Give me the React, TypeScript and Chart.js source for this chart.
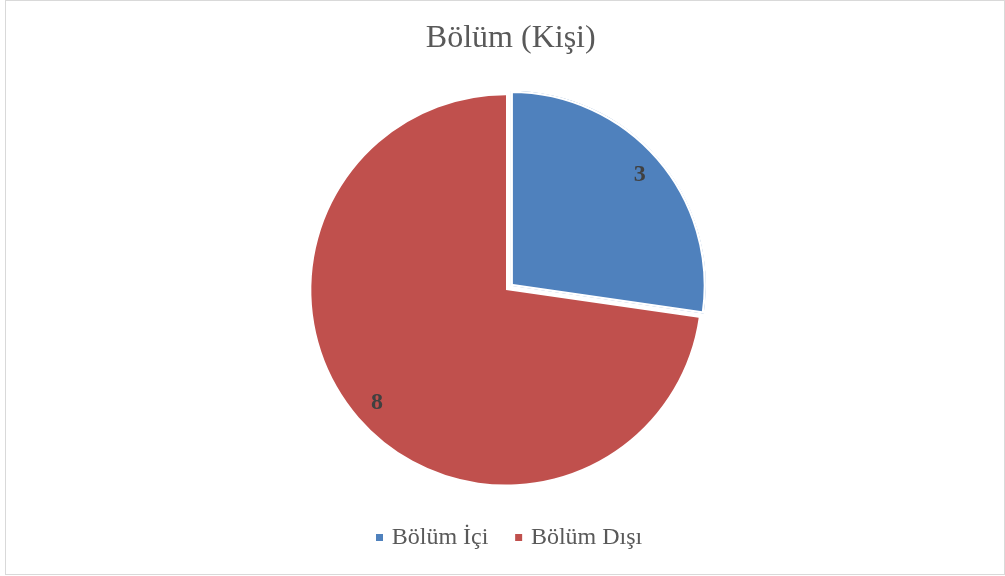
import React, { useEffect, useRef } from "react";
import { Chart, registerables, layouts } from "chart.js";

Chart.register(...registerables);

const categories: string[] = ["Bölüm İçi", "Bölüm Dışı"];
const values: number[] = [3, 8];
const sliceColors: string[] = ["#4F81BD", "#C0504D"];
const sliceOffsets: number[] = [26, 0];
const sliceBorders: number[] = [2, 0];
const titleText = "Bölüm (Kişi)";

const SERIF = "'Liberation Serif', 'Times New Roman', serif";

const sliceLabelPlugin = {
  id: "sliceLabels",
  afterDatasetsDraw(chart: any) {
    const ctx = chart.ctx as CanvasRenderingContext2D;
    const meta = chart.getDatasetMeta(0);
    ctx.save();
    ctx.font = `bold 24px ${SERIF}`;
    ctx.fillStyle = "#404040";
    ctx.textAlign = "center";
    ctx.textBaseline = "middle";
    meta.data.forEach((arc: any, i: number) => {
      const { x, y, startAngle, endAngle, outerRadius } = arc.getProps(
        ["x", "y", "startAngle", "endAngle", "outerRadius"],
        true
      );
      const mid = (startAngle + endAngle) / 2;
      const off = (arc.options.offset || 0) / 4;
      const d = outerRadius * 0.875 + off;
      ctx.fillText(String(values[i]), x + Math.cos(mid) * d, y + Math.sin(mid) * d + 1);
    });
    ctx.restore();
  },
};

// empty right-hand layout box: nudges the plot area without moving title/legend
const SPACER_WIDTH = 9.5;
const spacerPlugin = {
  id: "rightSpacer",
  beforeInit(chart: any) {
    const box: any = {
      position: "right",
      weight: 0,
      fullSize: false,
      options: {},
      width: 0,
      height: 0,
      left: 0,
      top: 0,
      right: 0,
      bottom: 0,
      isHorizontal() {
        return false;
      },
      update(_maxWidth: number, maxHeight: number) {
        this.width = SPACER_WIDTH;
        this.height = maxHeight;
        return { width: SPACER_WIDTH, height: maxHeight };
      },
      draw() {},
    };
    layouts.addBox(chart, box);
  },
};

export default function App() {
  const canvasRef = useRef<HTMLCanvasElement | null>(null);

  useEffect(() => {
    if (!canvasRef.current) return;
    const baseGen = (Chart as any).overrides.pie.plugins.legend.labels.generateLabels;
    const chart = new Chart(canvasRef.current, {
      type: "pie",
      data: {
        labels: categories,
        datasets: [
          {
            data: values,
            backgroundColor: sliceColors,
            borderColor: "#FFFFFF",
            borderWidth: sliceBorders,
            borderAlign: "inner",
            offset: sliceOffsets,
            radius: 195,
          } as any,
        ],
      },
      options: {
        responsive: false,
        animation: false,
        layout: { padding: { left: 16.5, right: 0, top: 0, bottom: 16.5 } },
        plugins: {
          title: {
            display: true,
            text: titleText,
            color: "#595959",
            font: { family: SERIF, size: 32, weight: "normal" as any, lineHeight: 1.2 },
            padding: { top: 19, bottom: 27 },
          },
          legend: {
            display: true,
            position: "bottom",
            labels: {
              color: "#595959",
              font: { family: SERIF, size: 24 },
              usePointStyle: true,
              pointStyle: "rect",
              boxWidth: 0.5,
              boxHeight: 7,
              padding: 30,
              generateLabels: (c: any) =>
                baseGen(c).map((l: any) => ({ ...l, lineWidth: 0, pointStyle: "rect" })),
            },
          },
          tooltip: { enabled: false },
        },
      },
      plugins: [sliceLabelPlugin, spacerPlugin],
    });
    return () => chart.destroy();
  }, []);

  return (
    <div style={{ position: "fixed", left: 0, top: 0, width: 1005, height: 576, background: "#fff" }}>
      <div
        style={{
          position: "absolute",
          left: 5,
          top: 0,
          width: 998,
          height: 573,
          border: "1px solid #D9D9D9",
        }}
      />
      <canvas
        ref={canvasRef}
        width={1005}
        height={576}
        style={{ position: "absolute", left: 0, top: 0, width: 1005, height: 576 }}
      />
    </div>
  );
}
